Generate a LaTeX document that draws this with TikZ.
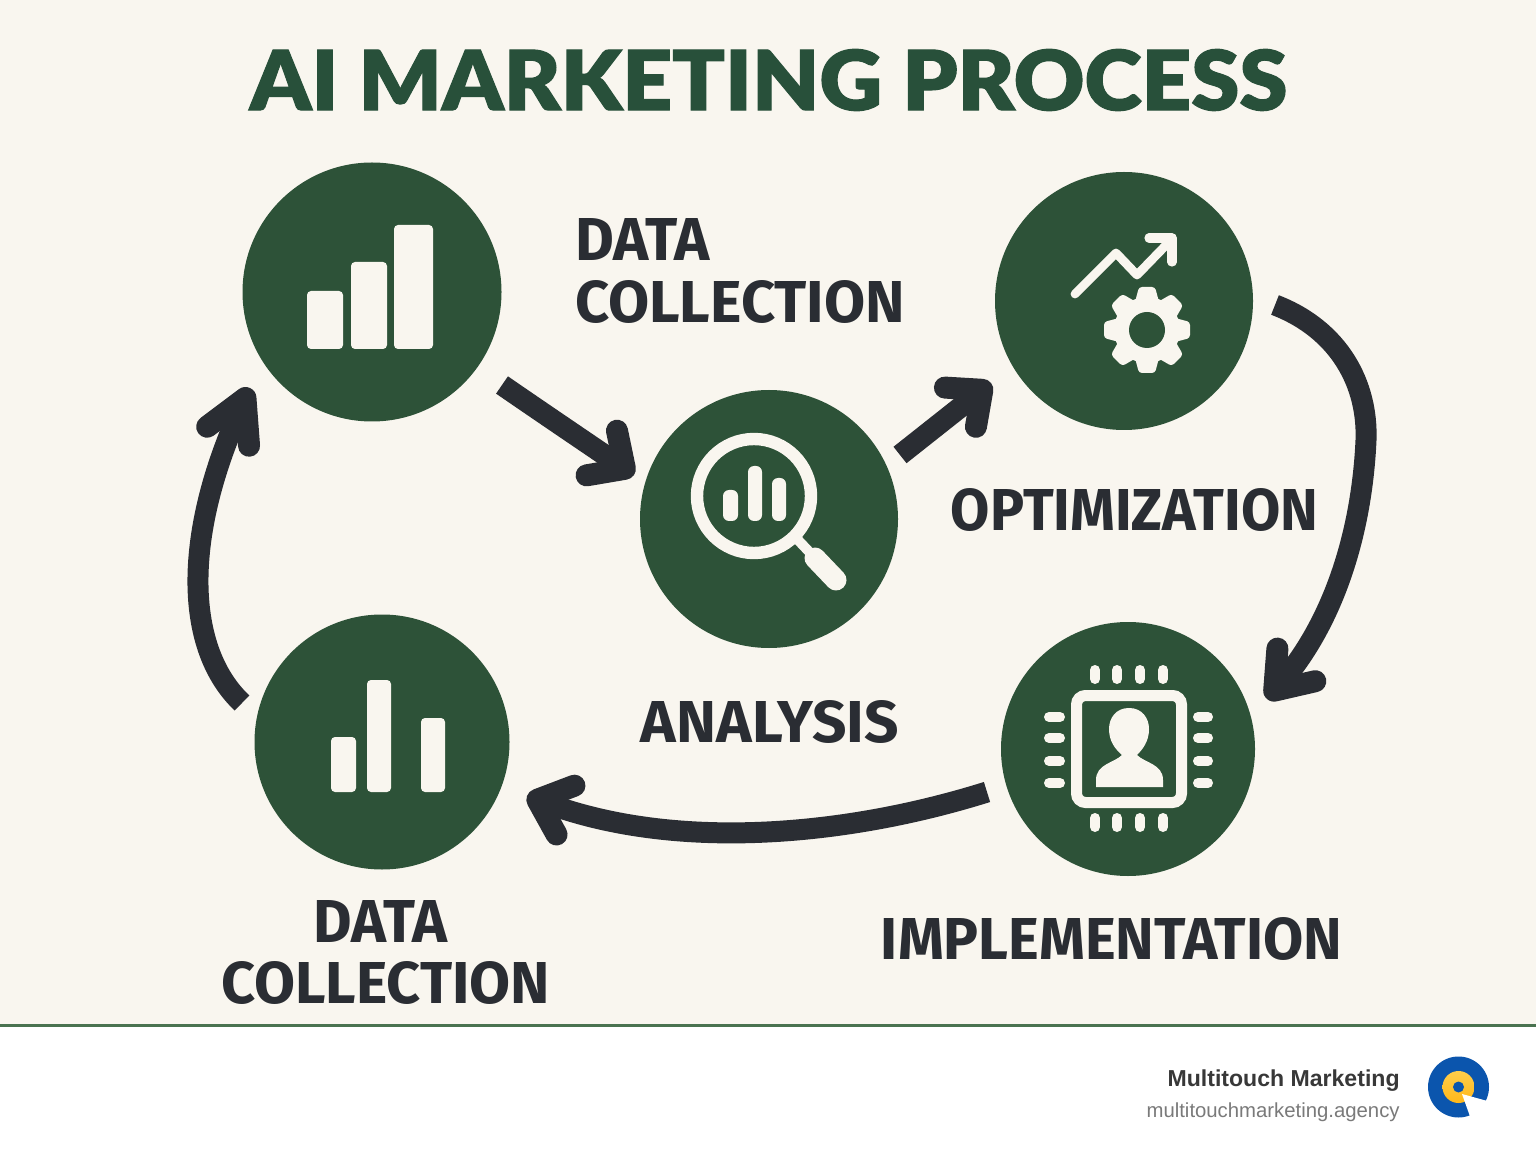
\documentclass[tikz,border=0pt]{standalone}
\usepackage{fontspec}
\usepackage{graphicx}
\setmainfont{Liberation Sans}
\newfontfamily\labfont{Fira Sans}[Ligatures=TeX]
\newfontfamily\titlefont{Lato Black}[FakeBold=1.3]
\usetikzlibrary{arrows.meta,shadings}
\definecolor{paper}{HTML}{F9F6EF}
\definecolor{forest}{HTML}{2D5238}
\definecolor{titlegreen}{HTML}{28503A}
\definecolor{ink}{HTML}{2A2D33}
\definecolor{rulegreen}{HTML}{4A7350}
\definecolor{iconwhite}{HTML}{F9F6EF}
\definecolor{logoblue}{HTML}{0B55AD}
\definecolor{logoyellow}{HTML}{FFC11E}
\newcommand{\fitbox}[3]{\resizebox{#1pt}{#2pt}{#3}}
\tikzset{
  disc/.style={circle,fill=forest,inner sep=0pt,minimum size=#1pt},
  lab/.style={inner sep=0pt,text=ink,font=\labfont\bfseries},
  flow/.style n args={2}{draw=ink,line width=10.5pt,line cap=butt,line join=round,
    -{Straight Barb[round,line width=11pt,length=#1pt,width=#2pt]}},
  iconfill/.style={fill=iconwhite,draw=none},
  iconline/.style={draw=iconwhite,line cap=round,line join=round},
  pin/.style={draw=iconwhite,line cap=round,line width=5pt},
}
\begin{document}
\begin{tikzpicture}[x=0.5pt,y=-0.5pt]
\useasboundingbox (0,0) rectangle (1536,1154);
\fill[white] (0,0) rectangle (1536,1154);
\fill[paper] (0,0) rectangle (1536,1025);
\fill[rulegreen] (0,1024) rectangle (1536,1027);

\node[inner sep=0pt,text=titlegreen] (title) at (768.5,80) {\fitbox{518.5}{30.5}{\titlefont AI MARKETING PROCESS}};

\node[disc=129.5] (c1) at (372,292) {};
\node[disc=129] (c2) at (769,519) {};
\node[disc=129] (c3) at (1124,301) {};
\node[disc=127] (c4) at (1128,749) {};
\node[disc=127.5] (c5) at (382,742) {};

% connectors
\coordinate (a1s) at (502,385);
\coordinate (a1e) at (634,475);
\coordinate (a2s) at (900,455);
\coordinate (a2e) at (991,383);
\coordinate (a3s) at (1275,305);
\coordinate (a3m) at (1366,440);
\coordinate (a3e) at (1267,699);
\coordinate (a4s) at (987,792);
\coordinate (a4e) at (527,796);
\coordinate (a5s) at (242,703);
\coordinate (a5e) at (250,388);
\draw[flow={14}{27}] (a1s) .. controls (550,418) and (590,445) .. (a1e);
\draw[flow={14}{25}] (a2s) -- (a2e);
\draw[flow={17}{25}] (a3s) .. controls (1340,330) and (1368,385) .. (a3m) .. controls (1362,530) and (1335,620) .. (a3e);
\draw[flow={15}{26}] (a4s) .. controls (850,835) and (680,852) .. (a4e);
\draw[flow={21}{23}] (a5s) .. controls (186,650) and (181,540) .. (a5e);

% icon 1: bars
\fill[iconfill,rounded corners=2pt] (307,291) rectangle (343,349);
\fill[iconfill,rounded corners=2pt] (351,262) rectangle (387,349);
\fill[iconfill,rounded corners=2pt] (394,225) rectangle (433,349);

% icon 2: magnifier
\draw[draw=iconwhite,line width=6.2pt] (754,496) circle (57);
\fill[iconfill,rounded corners=3pt] (723,490) rectangle (738,521);
\fill[iconfill,rounded corners=3pt] (748,466) rectangle (762,521);
\fill[iconfill,rounded corners=3pt] (772,478) rectangle (786,521);
\draw[iconline,line width=5pt,line cap=butt] (798,540) -- (815,558);
\draw[iconline,line width=10.5pt] (815,558) -- (836,580);

% icon 3: chart and gear
\draw[iconline,line width=4.4pt] (1075,294) -- (1116,253) -- (1137,275) -- (1170,241);
\draw[iconline,line width=4.6pt] (1149,238) -- (1172,238) -- (1172,262);
\foreach \ang in {0,45,...,315}{
  \fill[iconfill,rounded corners=1.5pt,shift={(1147,330)},rotate=\ang] (-12,-28) -- (-8,-43) -- (8,-43) -- (12,-28) -- cycle;
}
\fill[iconfill] (1147,330) circle (33);
\fill[forest] (1147,330) circle (18);

% icon 4: chip
\draw[draw=iconwhite,line width=5.5pt,rounded corners=4.5pt] (1076.5,695.5) rectangle (1181.5,802.5);
\foreach \px in {1095,1117,1140,1163}{
  \draw[pin] (\px,670) -- (\px,679);
  \draw[pin] (\px,818) -- (\px,827);
}
\foreach \py in {717,738,761,783}{
  \draw[pin] (1049,\py) -- (1060,\py);
  \draw[pin] (1198,\py) -- (1208,\py);
}
\fill[iconfill] (1129,708) .. controls (1142,708) and (1149,718) .. (1149,729)
  .. controls (1149,741) and (1143,749) .. (1137,755)
  .. controls (1145,763) and (1163,764) .. (1163,780) -- (1163,787) -- (1096,787) -- (1096,780)
  .. controls (1096,764) and (1114,763) .. (1122,755)
  .. controls (1115,749) and (1109,741) .. (1109,729)
  .. controls (1109,718) and (1116,708) .. (1129,708) -- cycle;

% icon 5: bars
\fill[iconfill,rounded corners=2pt] (331,737) rectangle (356,792);
\fill[iconfill,rounded corners=2pt] (367,680) rectangle (391,792);
\fill[iconfill,rounded corners=2pt] (421,718) rectangle (445,792);

% labels
\node[lab] (l1a) at (642.5,240) {\fitbox{67.5}{21}{DATA}};
\node[lab] (l1b) at (740,302) {\fitbox{165}{21}{COLLECTION}};
\node[lab] (l3) at (1134.5,510) {\fitbox{183.5}{21}{OPTIMIZATION}};
\node[lab] (l2) at (770,722) {\fitbox{129}{21}{ANALYSIS}};
\node[lab] (l5a) at (380,921) {\fitbox{67}{21}{DATA}};
\node[lab] (l5b) at (385.5,983) {\fitbox{164.5}{21}{COLLECTION}};
\node[lab] (l4) at (1111.5,938.5) {\fitbox{230.5}{21}{IMPLEMENTATION}};

% footer
\node[inner sep=0pt,anchor=base east,text=black!78,font=\bfseries] (brand) at (1400,1086) {\resizebox{116pt}{!}{Multitouch Marketing}};
\node[inner sep=0pt,anchor=base east,text=black!52] (site) at (1400,1117) {\resizebox{126.5pt}{!}{multitouchmarketing.agency}};

% logo
\fill[logoblue] (1458.5,1087) circle (30.5);
\shade[top color=logoyellow!80!white,bottom color=logoyellow!85!orange] (1458.5,1087) circle (16);
\fill[logoblue] (1458.5,1087) circle (5.5);
\fill[white] (1462,1094) -- (1491,1102) -- (1493,1122) -- (1470,1122) -- (1469.5,1115) -- cycle;
\end{tikzpicture}
\end{document}
